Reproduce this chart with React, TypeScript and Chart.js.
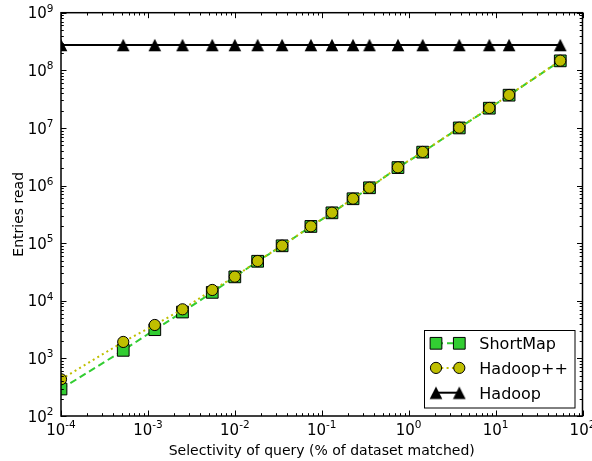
import React, { useEffect, useRef } from 'react';
import { Chart, registerables } from 'chart.js';

Chart.register(...registerables);

// ---------------- data ----------------
const selectivity = [
  1e-4, 5.2e-4, 1.2e-3, 2.5e-3, 5.5e-3, 1.0e-2, 1.83e-2, 3.5e-2, 7.5e-2,
  0.131, 0.229, 0.354, 0.753, 1.45, 3.82, 8.47, 14.3, 55.5,
];
const shortMapEntries = [
  294, 1380, 3150, 6380, 14000, 26000, 48500, 90000, 195000,
  336000, 590000, 915000, 2.05e6, 3.8e6, 1.0e7, 2.2e7, 3.7e7, 1.46e8,
];
const hadoopPlusPlusEntries = [
  434, 1930, 3800, 7110, 15400, 26200, 49000, 90400, 196000,
  338000, 592000, 918000, 2.07e6, 3.83e6, 1.01e7, 2.22e7, 3.73e7, 1.47e8,
];
const hadoopEntries = [
  2.75e8, 2.75e8, 2.75e8, 2.75e8, 2.75e8, 2.75e8, 2.75e8, 2.75e8, 2.75e8,
  2.75e8, 2.75e8, 2.75e8, 2.75e8, 2.75e8, 2.75e8, 2.75e8, 2.75e8, 2.75e8,
];
const seriesNames = ['ShortMap', 'Hadoop++', 'Hadoop'];
const xTickExponents = [-4, -3, -2, -1, 0, 1, 2];
const yTickExponents = [2, 3, 4, 5, 6, 7, 8, 9];
const xAxisTitle = 'Selectivity of query (% of dataset matched)';
const yAxisTitle = 'Entries read';

// ---------------- styles ----------------
const FONT = '"DejaVu Sans", sans-serif';
const GREEN = '#32cd32';
const OLIVE = '#bfbf00';
const SQUARE_R = 8.3;
const CIRCLE_R = 5.6;

function makeTriangle(): HTMLCanvasElement {
  const c = document.createElement('canvas');
  c.width = 14;
  c.height = 14;
  const g = c.getContext('2d')!;
  g.beginPath();
  g.moveTo(7, 0.8);
  g.lineTo(13.3, 13.2);
  g.lineTo(0.7, 13.2);
  g.closePath();
  g.fillStyle = '#000';
  g.fill();
  return c;
}

function drawSquare(ctx: CanvasRenderingContext2D, x: number, y: number) {
  const s = Math.SQRT1_2 * SQUARE_R;
  ctx.beginPath();
  ctx.rect(x - s, y - s, 2 * s, 2 * s);
  ctx.fillStyle = GREEN;
  ctx.fill();
  ctx.lineWidth = 1;
  ctx.strokeStyle = '#000';
  ctx.setLineDash([]);
  ctx.stroke();
}
function drawCircle(ctx: CanvasRenderingContext2D, x: number, y: number) {
  ctx.beginPath();
  ctx.arc(x, y, CIRCLE_R, 0, Math.PI * 2);
  ctx.fillStyle = OLIVE;
  ctx.fill();
  ctx.lineWidth = 1;
  ctx.strokeStyle = '#000';
  ctx.setLineDash([]);
  ctx.stroke();
}

function drawPow(ctx: CanvasRenderingContext2D, exp: number, x: number, baseline: number, align: 'center' | 'right') {
  const es = String(exp);
  ctx.font = `15px ${FONT}`;
  const wb = ctx.measureText('10').width;
  ctx.font = `10.5px ${FONT}`;
  const we = ctx.measureText(es).width;
  const total = wb + we;
  const left = align === 'center' ? x - total / 2 : x - total;
  ctx.textAlign = 'left';
  ctx.textBaseline = 'alphabetic';
  ctx.fillStyle = '#000';
  ctx.font = `15px ${FONT}`;
  ctx.fillText('10', left, baseline);
  ctx.font = `10.5px ${FONT}`;
  ctx.fillText(es, left + wb, baseline - 6.5);
}

export default function App() {
  const ref = useRef<HTMLCanvasElement | null>(null);

  useEffect(() => {
    const canvas = ref.current;
    if (!canvas) return;
    const tri = makeTriangle();

    const decorations = {
      id: 'decorations',
      afterDatasetsDraw(chart: any) {
        const { ctx, chartArea: a, scales } = chart;
        const xs = scales.x;
        const ys = scales.y;
        ctx.save();
        // ticks
        ctx.strokeStyle = '#000';
        ctx.lineWidth = 1;
        ctx.setLineDash([]);
        ctx.beginPath();
        for (let e = xTickExponents[0]; e <= xTickExponents[xTickExponents.length - 1]; e++) {
          for (let m = 1; m <= 9; m++) {
            const v = m * Math.pow(10, e);
            if (v > xs.max * 1.0001) break;
            const px = Math.round(xs.getPixelForValue(v)) + 0.5;
            const len = m === 1 ? 5.5 : 2.8;
            ctx.moveTo(px, a.bottom);
            ctx.lineTo(px, a.bottom - len);
            ctx.moveTo(px, a.top);
            ctx.lineTo(px, a.top + len);
          }
        }
        for (let e = yTickExponents[0]; e <= yTickExponents[yTickExponents.length - 1]; e++) {
          for (let m = 1; m <= 9; m++) {
            const v = m * Math.pow(10, e);
            if (v > ys.max * 1.0001) break;
            const py = Math.round(ys.getPixelForValue(v)) + 0.5;
            const len = m === 1 ? 5.5 : 2.8;
            ctx.moveTo(a.left, py);
            ctx.lineTo(a.left + len, py);
            ctx.moveTo(a.right, py);
            ctx.lineTo(a.right - len, py);
          }
        }
        ctx.stroke();
        // frame
        ctx.lineWidth = 1.5;
        ctx.strokeRect(a.left, a.top, a.right - a.left, a.bottom - a.top);

        // tick labels
        xTickExponents.forEach((e) => {
          drawPow(ctx, e, xs.getPixelForValue(Math.pow(10, e)), a.bottom + 18.5, 'center');
        });
        yTickExponents.forEach((e) => {
          drawPow(ctx, e, a.left - 7.5, ys.getPixelForValue(Math.pow(10, e)) + 5.6, 'right');
        });

        // axis titles
        ctx.font = `14px ${FONT}`;
        ctx.fillStyle = '#000';
        ctx.textAlign = 'center';
        ctx.textBaseline = 'alphabetic';
        ctx.fillText(xAxisTitle, (a.left + a.right) / 2, 454.5);
        ctx.save();
        ctx.translate(23.3, (a.top + a.bottom) / 2);
        ctx.rotate(-Math.PI / 2);
        ctx.fillText(yAxisTitle, 0, 0);
        ctx.restore();

        // legend
        const lx = 424.5, ly = 330.5, lw = 150.5, lh = 77.5;
        ctx.fillStyle = '#fff';
        ctx.fillRect(lx, ly, lw, lh);
        ctx.strokeStyle = '#000';
        ctx.lineWidth = 1;
        ctx.strokeRect(lx, ly, lw, lh);
        const rows = [343.3, 367.9, 392.7];
        const m1 = 436, m2 = 459.3;
        // ShortMap
        ctx.beginPath();
        ctx.setLineDash([7, 4]);
        ctx.lineDashOffset = 0;
        ctx.strokeStyle = GREEN;
        ctx.lineWidth = 2;
        ctx.moveTo(m1, rows[0]);
        ctx.lineTo(m2, rows[0]);
        ctx.stroke();
        drawSquare(ctx, m1, rows[0]);
        drawSquare(ctx, m2, rows[0]);
        // Hadoop++
        ctx.beginPath();
        ctx.setLineDash([2, 3.3]);
        ctx.strokeStyle = OLIVE;
        ctx.lineWidth = 2;
        ctx.moveTo(m1, rows[1]);
        ctx.lineTo(m2, rows[1]);
        ctx.stroke();
        drawCircle(ctx, m1, rows[1]);
        drawCircle(ctx, m2, rows[1]);
        // Hadoop
        ctx.beginPath();
        ctx.setLineDash([]);
        ctx.strokeStyle = '#000';
        ctx.lineWidth = 2;
        ctx.moveTo(m1, rows[2]);
        ctx.lineTo(m2, rows[2]);
        ctx.stroke();
        ctx.drawImage(tri, m1 - tri.width / 2, rows[2] - tri.height / 2);
        ctx.drawImage(tri, m2 - tri.width / 2, rows[2] - tri.height / 2);
        // labels
        ctx.font = `16px ${FONT}`;
        ctx.fillStyle = '#000';
        ctx.textAlign = 'left';
        ctx.textBaseline = 'alphabetic';
        seriesNames.forEach((n, i) => ctx.fillText(n, 479.3, rows[i] + 6));
        ctx.restore();
      },
    };

    const pts = (ys: number[]) => selectivity.map((x, i) => ({ x, y: ys[i] }));

    const chart = new Chart(canvas, {
      type: 'line',
      data: {
        datasets: [
          {
            label: seriesNames[0],
            data: pts(shortMapEntries),
            borderColor: GREEN,
            borderWidth: 2,
            borderDash: [7, 4],
            backgroundColor: GREEN,
            pointStyle: 'rect',
            pointRadius: SQUARE_R,
            pointBackgroundColor: GREEN,
            pointBorderColor: '#000',
            pointBorderWidth: 1,
            tension: 0,
            fill: false,
            clip: 0,
            order: 3,
          },
          {
            label: seriesNames[1],
            data: pts(hadoopPlusPlusEntries),
            borderColor: OLIVE,
            borderWidth: 2,
            borderDash: [2, 3.3],
            backgroundColor: OLIVE,
            pointStyle: 'circle',
            pointRadius: CIRCLE_R,
            pointBackgroundColor: OLIVE,
            pointBorderColor: '#000',
            pointBorderWidth: 1,
            tension: 0,
            fill: false,
            clip: 0,
            order: 2,
          },
          {
            label: seriesNames[2],
            data: pts(hadoopEntries),
            borderColor: '#000',
            borderWidth: 2,
            backgroundColor: '#000',
            pointStyle: tri,
            pointRadius: 7,
            tension: 0,
            fill: false,
            clip: 0,
            order: 1,
          },
        ] as any,
      },
      options: {
        responsive: false,
        animation: false,
        devicePixelRatio: 1,
        layout: { padding: { top: 12.7, right: 9.5, left: 0, bottom: 0 } },
        scales: {
          x: {
            type: 'logarithmic',
            min: 1e-4,
            max: 1e2,
            grid: { display: false, drawTicks: false },
            border: { display: false },
            ticks: { display: false },
            afterFit: (s: any) => { s.height = 45; },
          },
          y: {
            type: 'logarithmic',
            min: 1e2,
            max: 1e9,
            grid: { display: false, drawTicks: false },
            border: { display: false },
            ticks: { display: false },
            afterFit: (s: any) => { s.width = 61; },
          },
        },
        plugins: {
          legend: { display: false },
          tooltip: { enabled: false },
        },
      } as any,
      plugins: [decorations],
    });
    return () => chart.destroy();
  }, []);

  return (
    <div style={{ position: 'absolute', left: 0, top: 0, width: 592, height: 461, background: '#fff' }}>
      <canvas ref={ref} width={592} height={461} style={{ display: 'block' }} />
    </div>
  );
}
